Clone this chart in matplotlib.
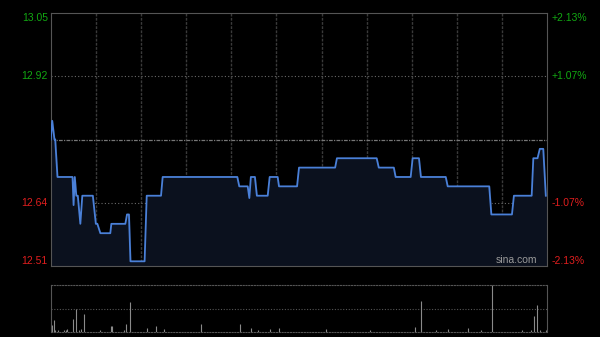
import matplotlib.pyplot as plt
import numpy as np

plt.rcParams['font.family'] = ['Liberation Sans', 'DejaVu Sans']

# intraday price, vertices (minutes after open, price)
minutes = [0, 1, 2.5, 3, 4.5, 14.5, 15.2, 16, 17, 18, 19.7, 21, 28, 30, 31, 33,
           39.6, 40.3, 49.6, 50.7, 52, 53, 62.4, 63.8, 73.3, 74.4, 124, 125.3,
           130.9, 132, 133, 135.7, 137, 144.2, 145.5, 150.8, 151.7, 163.7, 165,
           189, 190.2, 216.6, 218, 228, 229.2, 239.2, 240.5, 244.7, 246, 262.5,
           263.8, 291.4, 292.8, 306.5, 307.8, 319.6, 320.7, 323.5, 325, 327.3, 329]
prices = [12.78, 12.82, 12.78, 12.78, 12.70, 12.70, 12.64, 12.70, 12.66, 12.66,
          12.60, 12.66, 12.66, 12.60, 12.60, 12.58, 12.58, 12.60, 12.60, 12.62,
          12.62, 12.52, 12.52, 12.66, 12.66, 12.70, 12.70, 12.68, 12.68, 12.655,
          12.70, 12.70, 12.66, 12.66, 12.70, 12.70, 12.68, 12.68, 12.72, 12.72,
          12.74, 12.74, 12.72, 12.72, 12.70, 12.70, 12.74, 12.74, 12.70, 12.70,
          12.68, 12.68, 12.62, 12.62, 12.66, 12.66, 12.74, 12.74, 12.76, 12.76,
          12.66]

# volume bars (minute, relative volume)
vol_min = [1, 2, 3, 5, 9, 10, 11, 15, 17, 19, 20, 22, 33, 40, 41, 49, 50, 53,
           64, 70, 75, 100, 126, 133, 138, 146, 152, 183, 212, 242, 246, 256,
           264, 277, 286, 293, 313, 319, 321, 323, 325, 329, 330]
vol_val = [20, 35, 7, 5, 6, 6, 10, 40, 70, 5, 10, 55, 5, 18, 18, 5, 23, 88,
           12, 18, 10, 23, 23, 12, 7, 10, 12, 10, 7, 15, 92, 5, 10, 12, 5,
           140, 5, 6, 47, 80, 6, 6, 10]

prev_close = 12.78
y_low, y_high = 12.51, 13.05
left_labels = ['13.05', '12.92', '12.64', '12.51']
right_labels = ['+2.13%', '+1.07%', '-1.07%', '-2.13%']
green = '#12a812'
red = '#e01e1e'

fig = plt.figure(figsize=(6, 3.37), dpi=100, facecolor='black')
ax = fig.add_axes([0.0845, 0.2107, 0.8277, 0.7507])
axv = fig.add_axes([0.0845, 0.0148, 0.8277, 0.1395])

for a in (ax, axv):
    a.set_facecolor('black')
    a.set_xlim(0, 330)
    a.set_xticks([])
    a.set_yticks([])

# price panel
for m in range(30, 330, 30):
    ax.axvline(m, color='#3a3a3a', lw=1, ls=(0, (2, 1)), zorder=1)
q = (y_high - y_low) / 4
for lvl in (y_low + q, y_high - q):
    ax.axhline(lvl, color='#6a6a6a', lw=0.8, ls=(0, (1, 2)), zorder=1)
ax.axhline(prev_close, color='#777777', lw=0.9, ls=(0, (3, 1, 1, 1)), zorder=1)

ax.fill_between(minutes, prices, y_low, color='#0b111e', zorder=2)
ax.plot(minutes, prices, color='#4a80d8', lw=1.3, zorder=3)
ax.set_ylim(y_low, y_high)

for s in ax.spines.values():
    s.set_color('#555555')

levels = [y_high, y_high - q, y_low + q, y_low]
vas = ['top', 'center', 'center', 'bottom']
for i, lvl in enumerate(levels):
    c = green if lvl > prev_close else red
    ax.text(-0.006, lvl, left_labels[i], transform=ax.get_yaxis_transform(),
            ha='right', va=vas[i], color=c, fontsize=7.5)
    ax.text(1.008, lvl, right_labels[i], transform=ax.get_yaxis_transform(),
            ha='left', va=vas[i], color=c, fontsize=7.5)

ax.text(0.98, 0.005, 'sina.com', transform=ax.transAxes, ha='right', va='bottom',
        color='#9a9a9a', fontsize=7.5)

# volume panel
axv.set_ylim(0, max(vol_val))
axv.axhline(max(vol_val) / 2, color='#555555', lw=0.8, ls=(0, (1, 1.5)))
axv.vlines(vol_min, 0, vol_val, color='#8a8a8a', lw=0.8)
axv.spines['top'].set_linestyle((0, (1, 1.5)))
axv.spines['bottom'].set_linestyle((0, (1, 1.5)))
for s in axv.spines.values():
    s.set_color('#555555')

fig.savefig('out.png', dpi=100, facecolor='black')
